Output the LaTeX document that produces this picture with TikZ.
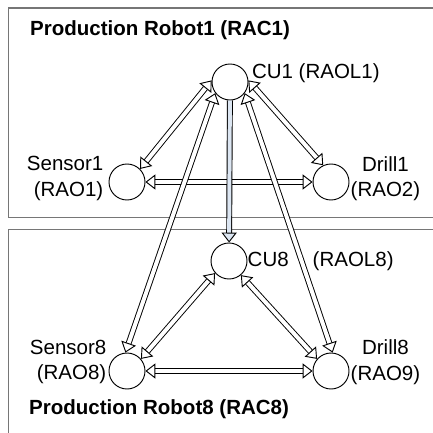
\documentclass[tikz,border=0pt]{standalone}
\usepackage{fontspec}
\setmainfont{Liberation Sans}
\usetikzlibrary{positioning,arrows.meta}

\definecolor{framegray}{RGB}{118,118,118}
\definecolor{cublue}{RGB}{220,230,242}

\begin{document}
\begin{tikzpicture}[x=0.03cm, y=-0.03cm, node distance=0.1cm]
    % Style definitions
    \tikzset{unit/.style={circle, draw=black, line width=0.8pt, fill=white, minimum size=1.08cm, inner sep=0pt},
             lbl/.style={inner sep=0pt, font=\fontsize{17.5pt}{22pt}\selectfont},
             title/.style={inner sep=0pt, font=\fontsize{17.5pt}{22pt}\selectfont\bfseries},
             frame/.style={draw=framegray, line width=1.7pt}}
    \tikzstyle{link} = [double=white, double distance=3.4pt, line width=0.8pt, <->,
                        >={Triangle[open, fill=white, length=8.5pt, width=13pt, line width=0.8pt]}]
    \tikzstyle{flow} = [link, double=cublue, ->,
                        >={Triangle[fill=cublue, length=8.5pt, width=13pt, line width=0.8pt]}]

    \clip (0,0) rectangle (433,432);

    % Robot frames
    \draw [frame] (8.5,8.5) rectangle (445,217.5);
    \draw [frame] (8.5,229.5) rectangle (445,445);

    % Units of Robot1
    \node (cu1) [unit] at (230,82) {};
    \node (sensor1) [unit] at (127,182) {};
    \node (drill1) [unit] at (331,182) {};

    % Units of Robot8
    \node (cu8) [unit] at (229,261) {};
    \node (sensor8) [unit] at (127,371) {};
    \node (drill8) [unit] at (331,371) {};

    % Labels
    \node (title1) [title, anchor=base west] at (30,36) {Production Robot1 (RAC1)};
    \node (title8) [title, anchor=base west] at (29,414) {Production Robot8 (RAC8)};
    \node (cu1lab) [lbl, right=0.1cm of cu1, yshift=0.27cm] {CU1 (RAOL1)};
    \node (sensor1lab) [lbl, align=right, left=0.15cm of sensor1, yshift=0.1cm] {Sensor1\\(RAO1)};
    \node (drill1lab) [lbl, align=center, right=0.03cm of drill1, yshift=0.1cm] {Drill1\\(RAO2)};
    \node (cu8lab) [lbl, right=0cm of cu8] {CU8\hspace{0.72cm}(RAOL8)};
    \node (sensor8lab) [lbl, align=right, left=0.06cm of sensor8, yshift=0.27cm] {Sensor8\\(RAO8)};
    \node (drill8lab) [lbl, align=center, right=0.03cm of drill8, yshift=0.27cm] {Drill8\\(RAO9)};

    % Arrows inside Robot1
    \draw [link] (cu1.175) -- (sensor1.45);
    \draw [link] (cu1.5) -- (drill1.115);
    \draw [link] (sensor1) -- (drill1);

    % Arrows from CU1 down to Robot8
    \draw [link] (cu1.217) -- (sensor8.95);
    \draw [link] (cu1.323) -- (drill8.85);
    \draw [flow] (cu1) -- (cu8);

    % Arrows inside Robot8
    \draw [link] (cu8.221) -- (sensor8.41);
    \draw [link] (cu8.310) -- (drill8.139);
    \draw [link] (sensor8) -- (drill8);

\end{tikzpicture}
\end{document}
